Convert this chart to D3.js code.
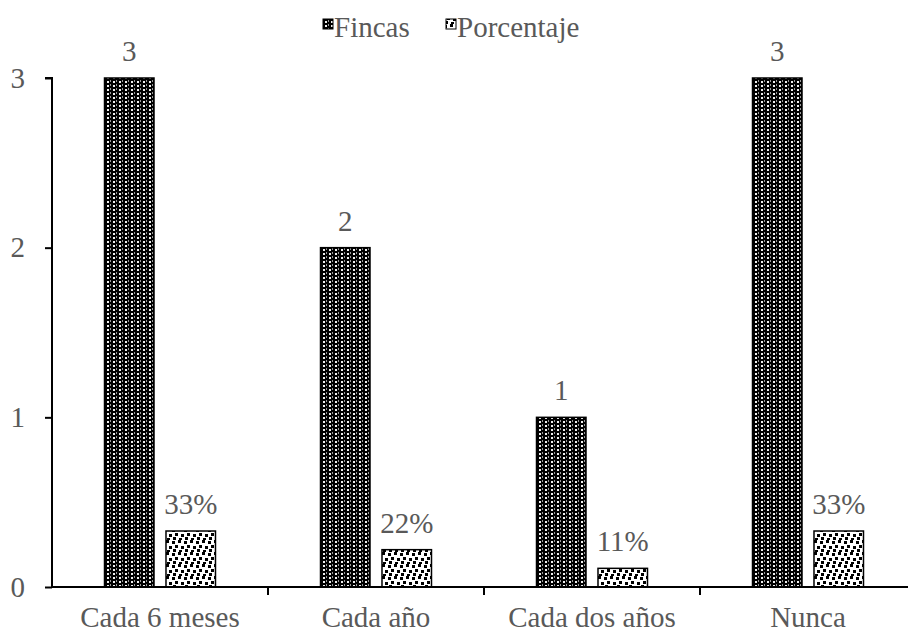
<!DOCTYPE html>
<html>
<head>
<meta charset="utf-8">
<script src="https://cdn.jsdelivr.net/npm/d3@7"></script>
<style>
  html, body { margin: 0; padding: 0; background: #fff; }
  svg { display: block; }
  text { font-family: "Liberation Serif", "Times New Roman", serif; fill: #595959; }
</style>
</head>
<body>
<svg id="chart" width="908" height="633"></svg>
<script>
// Frecuencia: número de fincas y porcentaje
const categories = ["Cada 6 meses", "Cada año", "Cada dos años", "Nunca"];
const seriesNames = ["Fincas", "Porcentaje"];
const fincas = [3, 2, 1, 3];
const porcentaje = [0.33, 0.22, 0.11, 0.33];
const yTicks = [0, 1, 2, 3];

const svg = d3.select("#chart");
const W = 908, H = 633;
const plotLeft = 52, plotTop = 78, plotBottom = 587;
const bandW = 216;
const fontSize = 29;

const defs = svg.append("defs");
// Dense dark pattern for Fincas
const p1 = defs.append("pattern").attr("id", "patFincas")
  .attr("patternUnits", "userSpaceOnUse").attr("width", 6).attr("height", 4);
p1.append("rect").attr("width", 6).attr("height", 4).attr("fill", "#000");
p1.append("rect").attr("x", 1).attr("y", 1).attr("width", 2).attr("height", 2).attr("fill", "#f0f0f0");
p1.append("rect").attr("x", 4).attr("y", 0).attr("width", 1).attr("height", 2).attr("fill", "#9a9a9a");
// Confetti pattern for Porcentaje
const p2 = defs.append("pattern").attr("id", "patPorc")
  .attr("patternUnits", "userSpaceOnUse").attr("width", 12).attr("height", 12);
p2.append("rect").attr("width", 12).attr("height", 12).attr("fill", "#fff");
[[0,1],[6,0],[3,5],[9,6],[1,9],[7,10]].forEach(([x, y]) => {
  p2.append("rect").attr("x", x).attr("y", y).attr("width", 3).attr("height", 3).attr("fill", "#000");
});

const x0 = d3.scaleBand().domain(categories).range([plotLeft, plotLeft + bandW * categories.length]).paddingInner(0).paddingOuter(0);
const x1 = d3.scaleBand().domain(seriesNames).range([0, x0.bandwidth()]).paddingInner(0.195).paddingOuter(0.854);
const y = d3.scaleLinear().domain([0, 3]).range([plotBottom, plotTop]);

const fills = { Fincas: "url(#patFincas)", Porcentaje: "url(#patPorc)" };
const rows = categories.map((c, i) => ({ cat: c, vals: [
  { s: "Fincas", v: fincas[i], label: String(fincas[i]) },
  { s: "Porcentaje", v: porcentaje[i], label: Math.round(porcentaje[i] * 100) + "%" }
]}));

const groups = svg.append("g").selectAll("g").data(rows).join("g")
  .attr("transform", d => `translate(${x0(d.cat)},0)`);

groups.selectAll("rect").data(d => d.vals).join("rect")
  .attr("x", d => x1(d.s))
  .attr("y", d => y(d.v))
  .attr("width", x1.bandwidth())
  .attr("height", d => y(0) - y(d.v))
  .attr("fill", d => fills[d.s])
  .attr("stroke", "#000")
  .attr("stroke-width", 1.5);

groups.selectAll("text.val").data(d => d.vals).join("text")
  .attr("class", "val")
  .attr("x", d => x1(d.s) + x1.bandwidth() / 2)
  .attr("y", d => y(d.v) - 17)
  .attr("text-anchor", "middle")
  .attr("font-size", fontSize)
  .text(d => d.label);

// Y axis
const yAxis = svg.append("g").attr("transform", `translate(${plotLeft},0)`)
  .call(d3.axisLeft(y).tickValues(yTicks).tickFormat(d3.format("d")).tickSize(7).tickPadding(20));
yAxis.select(".domain").attr("stroke", "#000").attr("stroke-width", 2).attr("d", `M-7,${plotTop}H0V${plotBottom}`);
yAxis.selectAll(".tick line").attr("stroke", "#000").attr("stroke-width", 2);
yAxis.selectAll(".tick text").attr("font-size", fontSize).attr("fill", "#595959");

// X axis
const xAxis = svg.append("g").attr("transform", `translate(0,${plotBottom})`)
  .call(d3.axisBottom(x0).tickSize(0));
xAxis.select(".domain").attr("stroke", "#000").attr("stroke-width", 2).attr("d", `M${plotLeft},0H${W}`);
xAxis.selectAll(".tick text").attr("font-size", fontSize).attr("fill", "#595959")
  .attr("y", 40).attr("dy", 0);
// Category separators
svg.append("g").selectAll("line").data(categories.slice(1)).join("line")
  .attr("x1", d => x0(d)).attr("x2", d => x0(d))
  .attr("y1", plotBottom).attr("y2", plotBottom + 8)
  .attr("stroke", "#000").attr("stroke-width", 2);

// Legend
const legend = svg.append("g");
const legItems = [{ s: "Fincas", x: 323 }, { s: "Porcentaje", x: 446 }];
legItems.forEach(it => {
  legend.append("rect").attr("x", it.x).attr("y", 19).attr("width", 10).attr("height", 10)
    .attr("fill", fills[it.s]).attr("stroke", "#000").attr("stroke-width", 1);
  legend.append("text").attr("x", it.x + 11).attr("y", 37).attr("font-size", fontSize).text(it.s);
});
</script>
</body>
</html>
